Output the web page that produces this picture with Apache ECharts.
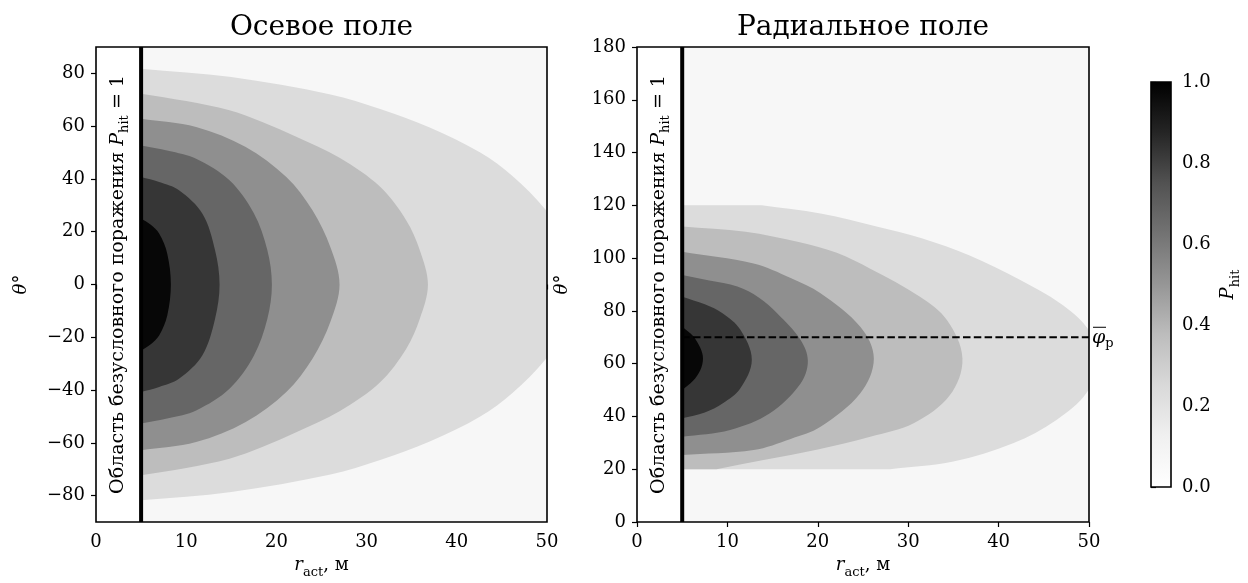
<!DOCTYPE html>
<html><head><meta charset="utf-8">
<script src="https://cdn.jsdelivr.net/npm/echarts@6/dist/echarts.min.js"></script>
<style>html,body{margin:0;padding:0;background:#fff}#c{width:1248px;height:583px}</style>
</head><body><div id="c"></div>
<script>
const FONT = "'DejaVu Serif', serif";
// ---- data ----
const titles = ['Осевое поле', 'Радиальное поле'];
const xTicks = [0, 10, 20, 30, 40, 50];
const axialYTicks = [-80, -60, -40, -20, 0, 20, 40, 60, 80];
const radialYTicks = [0, 20, 40, 60, 80, 100, 120, 140, 160, 180];
const cbTicks = [0, 0.2, 0.4, 0.6, 0.8, 1.0];
const bandColors = ['#f7f7f7', '#dcdcdc', '#bdbdbd', '#8f8f8f', '#666666', '#363636', '#070707'];
const greysStops = ['#ffffff', '#f0f0f0', '#d9d9d9', '#bdbdbd', '#969696', '#737373', '#525252', '#252525', '#000000'];
const killRadius = 5;
const phiMean = 70;
// contour boundaries [r, theta] (axial field)
const axialC1 = [[5,81.8],[15,78.6],[26,72],[31.5,66.5],[37,59.5],[42.6,50],[46.2,41],[49.8,28.5],[52,17],[53.2,7],[53.5,0],[53.2,-7],[52,-17],[49.8,-28.5],[46.2,-41],[42.6,-50],[37,-59.5],[31.5,-66.5],[26,-72],[15,-78.6],[5,-81.8]];
const axialC2 = [[5,72.3],[10,69.5],[14.8,66],[18.5,61.5],[22.2,56],[27,48],[31.5,37],[34.4,24.3],[35.9,13],[36.8,0],[35.9,-13],[34.4,-24.3],[31.5,-37],[27,-48],[22.2,-56],[18.5,-61.5],[14.8,-66],[10,-69.5],[5,-72.3]];
const axialC3 = [[5,62.8],[11.1,59.7],[16.6,52.1],[21.1,40.7],[24,28.1],[26,14],[27,0],[26,-14],[24,-28.1],[21.1,-40.7],[16.6,-52.1],[11.1,-59.7],[5,-62.8]];
const axialC4 = [[5,52.7],[8,50.7],[11.1,47.7],[14.8,39.5],[17.5,27],[19,13],[19.5,0],[19,-13],[17.5,-27],[14.8,-39.5],[11.1,-47.7],[8,-50.7],[5,-52.7]];
const axialC5 = [[5,40.7],[7,38.8],[9.2,35.7],[11.8,26.8],[13.2,13],[13.7,0],[13.2,-13],[11.8,-26.8],[9.2,-35.7],[7,-38.8],[5,-40.7]];
const axialC6 = [[5,25],[6,22.8],[7.0,19.3],[7.9,11.7],[8.3,0],[7.9,-11.7],[7.0,-19.3],[6,-22.8],[5,-25]];
// contour boundaries [r, theta] (radial field)
const radialC1 = [[13.8,120],[20.3,116.9],[26.5,112],[31.5,107.5],[36.8,101],[42.4,91.7],[46.8,82.9],[49.7,74],[51.3,62],[49.7,48.8],[46.4,38.7],[41.6,29.8],[35,22.9],[28,20]];
const radialC2 = [[5,112],[12,110],[18,106],[22.1,102],[25.8,96],[31.3,85.4],[34.3,76.5],[36,62],[34.6,48],[30.6,37.4],[25.8,32.3],[20,27.5],[14,23.5],[8.8,20]];
const radialC3 = [[5,102.4],[12.9,98],[17,92.5],[20.3,86.7],[24.7,74],[26.2,62],[24.7,48.8],[20.3,36.1],[17,31.5],[12.9,27.3],[5,25.4]];
const radialC4 = [[5,93.6],[8,91.5],[11.1,89.2],[13.5,85],[15.5,79.1],[18.1,69],[18.9,61],[18.1,52.5],[14.7,41.2],[10.3,34.9],[5,32.3]];
const radialC5 = [[5,85.4],[7.5,82.5],[9.5,79],[11.4,73],[12.7,61.5],[11.4,50.5],[9.5,45],[7.5,41.5],[5,39.3]];
const radialC6 = [[5,74],[6.2,70.5],[7.0,66],[7.3,62],[7.0,57.5],[6.2,53.5],[5,50]];

const axialCurves = [axialC1, axialC2, axialC3, axialC4, axialC5, axialC6];
const radialCurves = [radialC1, radialC2, radialC3, radialC4, radialC5, radialC6];

// ---- drawing helpers ----
function unit(a, b) {
  const dx = b[0] - a[0], dy = b[1] - a[1], l = Math.hypot(dx, dy) || 1;
  return [dx / l, dy / l];
}
function bandPath(api, pts) {
  const P = pts.map(p => api.coord(p));
  const s = api.coord([killRadius, pts[0][1]]);
  const e = api.coord([killRadius, pts[pts.length - 1][1]]);
  const n = P.length;
  const T = P.map((p, i) => unit(P[Math.max(0, i - 1)], P[Math.min(n - 1, i + 1)]));
  let d = 'M' + s[0] + ',' + s[1] + ' L' + P[0][0] + ',' + P[0][1];
  for (let i = 0; i < n - 1; i++) {
    const p1 = P[i], p2 = P[i + 1];
    const L = Math.hypot(p2[0] - p1[0], p2[1] - p1[1]) / 3;
    const c1 = [p1[0] + T[i][0] * L, p1[1] + T[i][1] * L];
    const c2 = [p2[0] - T[i + 1][0] * L, p2[1] - T[i + 1][1] * L];
    d += ' C' + c1[0] + ',' + c1[1] + ' ' + c2[0] + ',' + c2[1] + ' ' + p2[0] + ',' + p2[1];
  }
  d += ' L' + e[0] + ',' + e[1] + ' Z';
  return d;
}
function contourSeries(gi, curves, yMin, yMax) {
  return {
    type: 'custom', xAxisIndex: gi, yAxisIndex: gi, clip: true, silent: true,
    data: [0].concat(curves.map((c, i) => i + 1)).map(() => [25, (yMin + yMax) / 2]),
    renderItem(params, api) {
      const i = params.dataIndex;
      if (i === 0) {
        const a = api.coord([killRadius, yMax]), b = api.coord([50, yMin]);
        return { type: 'rect', shape: { x: a[0], y: a[1], width: b[0] - a[0], height: b[1] - a[1] }, style: { fill: bandColors[0] } };
      }
      return { type: 'path', shape: { pathData: bandPath(api, curves[i - 1]) }, style: { fill: bandColors[i] } };
    }
  };
}
const bandRich = {
  n: { fontFamily: FONT, fontSize: 19, lineHeight: 22, verticalAlign: 'top', fill: '#000' },
  i: { fontFamily: FONT, fontStyle: 'italic', fontSize: 19, lineHeight: 22, verticalAlign: 'top', fill: '#000' },
  s: { fontFamily: FONT, fontSize: 13, lineHeight: 13, verticalAlign: 'top', padding: [10, 0, 0, 0], fill: '#000' }
};
function overlaySeries(gi, yMin, yMax, title, isRadial) {
  return {
    type: 'custom', xAxisIndex: gi, yAxisIndex: gi, clip: false, silent: true, z: 10,
    data: [[25, (yMin + yMax) / 2]],
    renderItem(params, api) {
      const tl = api.coord([0, yMax]), br = api.coord([50, yMin]);
      const k0 = api.coord([killRadius, yMax]), k1 = api.coord([killRadius, yMin]);
      const mid = api.coord([killRadius / 2, (yMin + yMax) / 2]);
      const children = [
        { type: 'line', shape: { x1: k0[0], y1: k0[1], x2: k1[0], y2: k1[1] }, style: { stroke: '#000', lineWidth: 4 } },
        { type: 'text', x: mid[0] + 1, y: mid[1], rotation: Math.PI / 2,
          style: { text: '{n|Область безусловного поражения }{i|P}{s|hit}{n| = 1}', rich: bandRich, align: 'center', verticalAlign: 'middle' } },
        { type: 'rect', shape: { x: tl[0], y: tl[1], width: br[0] - tl[0], height: br[1] - tl[1] }, style: { fill: 'none', stroke: '#000', lineWidth: 1.6 } },
        { type: 'text', x: (tl[0] + br[0]) / 2, y: tl[1] - 19,
          style: { text: title, fontFamily: FONT, fontSize: 28, fill: '#000', align: 'center', verticalAlign: 'middle' } }
      ];
      if (isRadial) {
        const d0 = api.coord([killRadius, phiMean]), d1 = api.coord([50, phiMean]);
        children.push({ type: 'line', shape: { x1: d0[0], y1: d0[1], x2: d1[0], y2: d1[1] }, style: { stroke: '#000', lineWidth: 2, lineDash: [7.5, 3.3] } });
        children.push({ type: 'text', x: d1[0] + 3, y: d1[1] + 2,
          style: { text: '{i|φ}{s|p}', align: 'left', verticalAlign: 'middle',
            rich: { i: { fontFamily: FONT, fontStyle: 'italic', fontSize: 19, lineHeight: 21, verticalAlign: 'top', fill: '#000' },
                    s: { fontFamily: FONT, fontSize: 13, lineHeight: 13, verticalAlign: 'top', padding: [8, 0, 0, 0], fill: '#000' } } } });
        children.push({ type: 'line', shape: { x1: d1[0] + 4, y1: d1[1] - 10, x2: d1[0] + 17, y2: d1[1] - 10 }, style: { stroke: '#000', lineWidth: 1 } });
      }
      return { type: 'group', children };
    }
  };
}
const numFmt = v => (v < 0 ? '\u2212' + Math.abs(v) : String(v));
const tickLabel = { fontFamily: FONT, fontSize: 18, color: '#000', margin: 11 };
const axisRich = {
  i: { fontFamily: FONT, fontStyle: 'italic', fontSize: 18, lineHeight: 22, verticalAlign: 'top', color: '#000' },
  n: { fontFamily: FONT, fontSize: 18, lineHeight: 22, verticalAlign: 'top', color: '#000' },
  s: { fontFamily: FONT, fontSize: 13, lineHeight: 13, verticalAlign: 'top', padding: [10, 0, 0, 0], color: '#000' }
};
function xAx(gi) {
  return { type: 'value', gridIndex: gi, min: 0, max: 50, interval: 10,
    axisLine: { show: false }, splitLine: { show: false },
    axisTick: { show: true, length: 5, lineStyle: { color: '#000', width: 1.2 } },
    axisLabel: tickLabel,
    name: '{i|r}{s|act}{n|, м}', nameLocation: 'middle', nameGap: 33, nameTextStyle: { rich: axisRich } };
}
function yAx(gi, min, max, ticks) {
  return { type: 'value', gridIndex: gi, min, max,
    axisLine: { show: false }, splitLine: { show: false },
    axisTick: { show: true, length: 5, customValues: ticks, lineStyle: { color: '#000', width: 1.2 } },
    axisLabel: Object.assign({ customValues: ticks, formatter: numFmt }, tickLabel),
    name: '{i|θ}{n|°}', nameLocation: 'middle', nameRotate: 90, nameGap: 62, nameTextStyle: { rich: axisRich } };
}

const chart = echarts.init(document.getElementById('c'), null, { renderer: 'canvas' });
chart.setOption({
  animation: false,
  backgroundColor: '#fff',
  grid: [
    { left: 96, top: 47, width: 451, height: 475, outerBoundsMode: 'none' },
    { left: 637, top: 47, width: 452, height: 475, outerBoundsMode: 'none' },
    { left: 1151, top: 82, width: 20, height: 405, outerBoundsMode: 'none' }
  ],
  xAxis: [xAx(0), xAx(1), { type: 'value', gridIndex: 2, min: 0, max: 1, show: false }],
  yAxis: [
    yAx(0, -90, 90, axialYTicks),
    yAx(1, 0, 180, radialYTicks),
    { type: 'value', gridIndex: 2, min: 0, max: 1, position: 'right',
      axisLine: { show: false }, splitLine: { show: false },
      axisTick: { show: true, length: 5, customValues: cbTicks, lineStyle: { color: '#000', width: 1.2 } },
      axisLabel: Object.assign({ customValues: cbTicks, formatter: v => v.toFixed(1) }, tickLabel),
      name: '{i|P}{s|hit}', nameLocation: 'middle', nameRotate: 90, nameGap: 48, nameTextStyle: { rich: axisRich } }
  ],
  series: [
    contourSeries(0, axialCurves, -90, 90),
    overlaySeries(0, -90, 90, titles[0], false),
    contourSeries(1, radialCurves, 0, 180),
    overlaySeries(1, 0, 180, titles[1], true),
    {
      type: 'custom', xAxisIndex: 2, yAxisIndex: 2, clip: false, silent: true,
      data: [[0.5, 0.5]],
      renderItem(params, api) {
        const a = api.coord([0, 1]), b = api.coord([1, 0]);
        const stops = greysStops.map((c, i) => ({ offset: i / (greysStops.length - 1), color: c }));
        return { type: 'group', children: [
          { type: 'rect', shape: { x: a[0], y: a[1], width: b[0] - a[0], height: b[1] - a[1] },
            style: { fill: new echarts.graphic.LinearGradient(0, 1, 0, 0, stops) } },
          { type: 'rect', shape: { x: a[0], y: a[1], width: b[0] - a[0], height: b[1] - a[1] },
            style: { fill: 'none', stroke: '#000', lineWidth: 1.6 } }
        ] };
      }
    }
  ]
});
</script></body></html>
